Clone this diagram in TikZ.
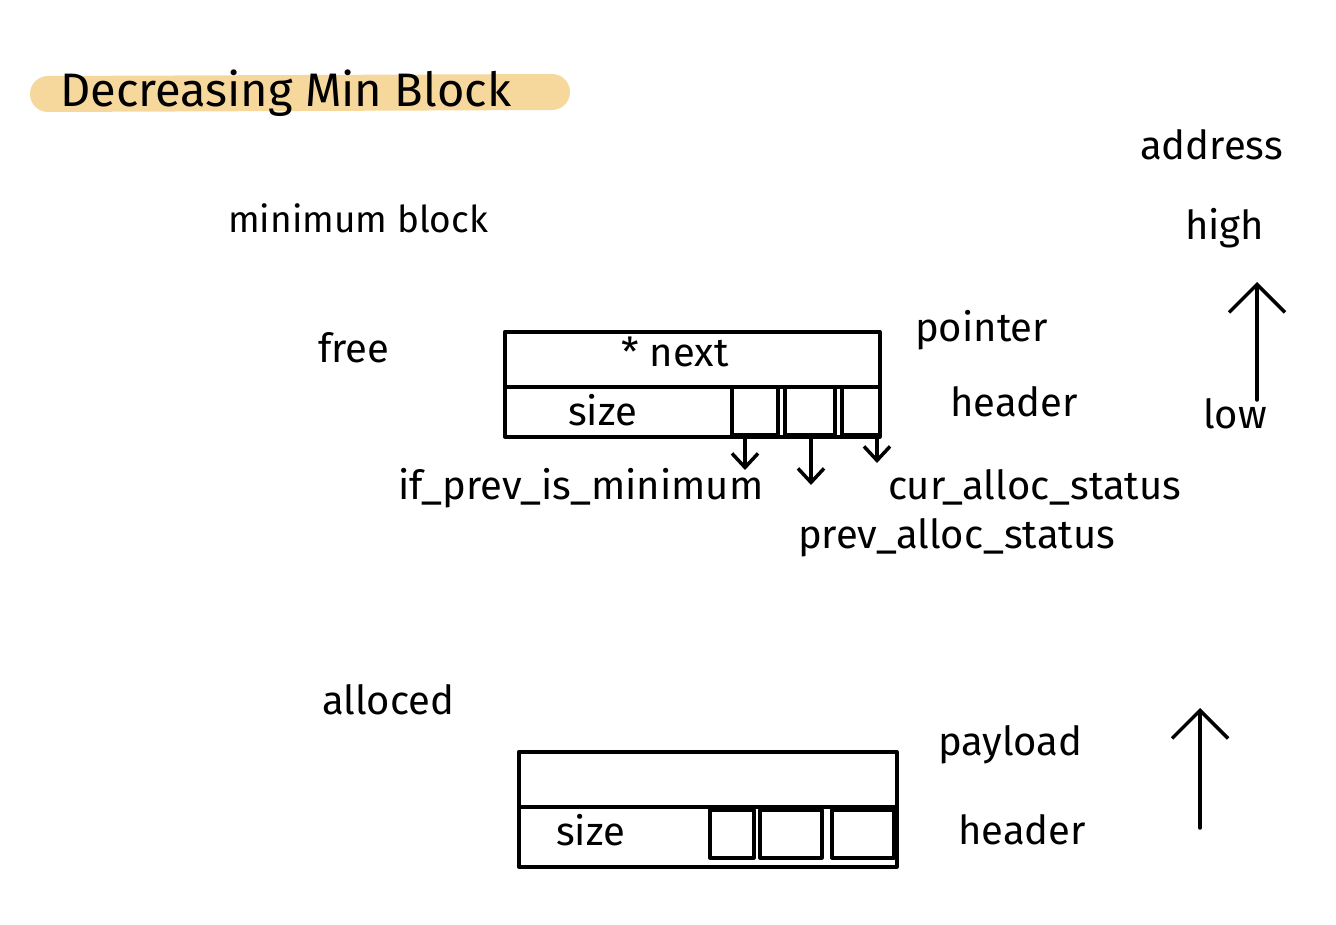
\documentclass[tikz,border=0pt]{standalone}
\usepackage{fontspec}
\setmainfont{Fira Sans}
\usetikzlibrary{arrows.meta}
\definecolor{hl}{RGB}{246,216,156}
\tikzset{
  ink/.style={line width=3.5pt, line cap=round, line join=round},
  lbl/.style={inner sep=0pt, font=\fontsize{40}{44}\selectfont},
  row/.style={ink, draw, rectangle, inner sep=0pt},
  bit/.style={ink, draw, rectangle, inner sep=0pt, minimum height=48pt},
  arr/.style={ink, -{Straight Barb[length=14pt,width=26pt,line width=3.5pt]}},
  bigarr/.style={ink, -{Straight Barb[length=28pt,width=56pt,line width=3.5pt]}},
}
\begin{document}
\begin{tikzpicture}[x=1pt,y=-1pt]
\useasboundingbox (0,0) rectangle (1336,924);
% title
\coordinate (hlA) at (48,94);
\coordinate (hlB) at (552,92);
\draw[hl, line width=36pt, line cap=round] (hlA) -- (hlB);
\node[lbl, anchor=west, font=\fontsize{47}{50}\selectfont] (title) at (60,93) {Decreasing Min Block};
% labels
\node[lbl, anchor=west, font=\fontsize{37}{40}\selectfont] (minblk) at (228,218) {minimum block};
\node[lbl, anchor=west] (addr) at (1140,145) {address};
\node[lbl, anchor=west] (high) at (1185,228) {high};
\node[lbl, anchor=west] (low) at (1203,414) {low};
\node[lbl, anchor=west] (free) at (318,348) {free};
\node[lbl, anchor=west] (alloced) at (322,700) {alloced};
% free block
\node[row, minimum width=375pt, minimum height=55pt, anchor=north west] (nextrow) at (503,330) {};
\node[lbl] (nexttxt) at (675,352) {* next};
\node[row, minimum width=375pt, minimum height=50pt, anchor=north west] (hdrrow) at (503,385) {};
\node[lbl, anchor=west] (sizeA) at (568,410) {size};
\node[bit, minimum width=46pt, anchor=north west] (b1) at (730,385) {};
\node[bit, minimum width=50pt, anchor=north west] (b2) at (783,385) {};
\node[bit, minimum width=38pt, anchor=north west] (b3) at (840,385) {};
\node[lbl, anchor=west] (ptr) at (915,330) {pointer};
\node[lbl, anchor=west] (hdrA) at (950,402) {header};
\node[lbl, anchor=west] (ifprev) at (398,488) {if\_prev\_is\_minimum};
\node[lbl, anchor=west] (cur) at (888,487) {cur\_alloc\_status};
\node[lbl, anchor=west] (prev) at (798,538) {prev\_alloc\_status};
\coordinate (e1) at (745,470);
\coordinate (e2) at (811,485);
\coordinate (e3) at (877,463);
\draw[arr] (b1.south -| e1) -- (e1);
\draw[arr] (b2.south -| e2) -- (e2);
\draw[arr] (b3.south -| e3) -- (e3);
% address arrow
\coordinate (lowpt) at (1257,400);
\coordinate (highpt) at (1257,282);
\draw[bigarr] (lowpt) -- (highpt);
% alloced block
\node[row, minimum width=378pt, minimum height=55pt, anchor=north west] (payrow) at (517,750) {};
\node[row, minimum width=378pt, minimum height=60pt, anchor=north west] (hdrrowB) at (517,805) {};
\node[lbl, anchor=west] (sizeB) at (556,830) {size};
\node[bit, minimum width=44pt, anchor=north west] (c1) at (708,808) {};
\node[bit, minimum width=62pt, anchor=north west] (c2) at (758,808) {};
\node[bit, minimum width=62pt, anchor=north west] (c3) at (830,808) {};
\node[lbl, anchor=west] (payload) at (938,745) {payload};
\node[lbl, anchor=west] (hdrB) at (958,830) {header};
\coordinate (up1) at (1200,828);
\coordinate (up2) at (1200,708);
\draw[bigarr] (up1) -- (up2);
\end{tikzpicture}
\end{document}
